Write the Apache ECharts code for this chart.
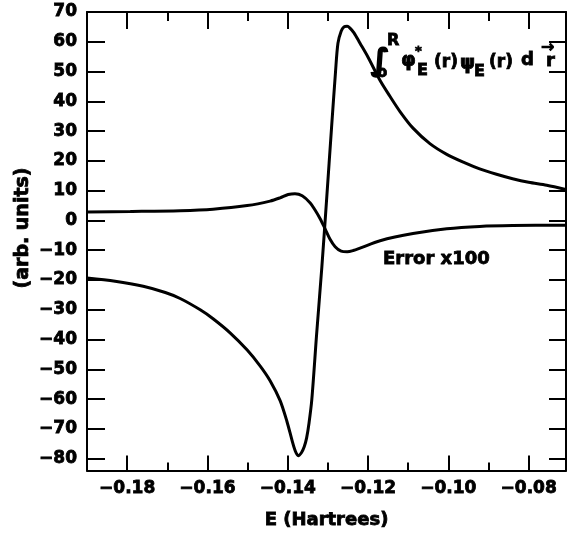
<!DOCTYPE html>
<html>
<head>
<meta charset="utf-8">
<script src="https://cdn.jsdelivr.net/npm/echarts@6/dist/echarts.min.js"></script>
<style>
html,body{margin:0;padding:0;background:#fff;}
#chart{width:568px;height:535px;}
</style>
</head>
<body>
<div id="chart"></div>
<script>
// ---- data ----
const integralX = [-0.1900,-0.1830,-0.1760,-0.1705,-0.1668,-0.1618,-0.1586,-0.1543,-0.1501,-0.1469,-0.1444,-0.1419,-0.1402,-0.1389,-0.1381,-0.1374,-0.1366,-0.1359,-0.1353,-0.1347,-0.1340,-0.1328,-0.1315,-0.1303,-0.1291,-0.1281,-0.1275,-0.1267,-0.1260,-0.1252,-0.1245,-0.1235,-0.1220,-0.1200,-0.1170,-0.1146,-0.1120,-0.1088,-0.1046,-0.1004,-0.0960,-0.0922,-0.0880,-0.0840,-0.0800,-0.0755,-0.0708];
const integralY = [-19.3,-20.4,-22.1,-24.2,-26.2,-30.0,-33.0,-37.8,-43.5,-48.8,-53.8,-60.5,-67.5,-74.0,-77.5,-79.0,-78.0,-76.0,-73.0,-68.0,-60.0,-38.0,-15.5,7.5,31.0,50.0,59.5,63.5,65.0,65.2,64.6,63.0,59.5,54.8,47.0,41.8,36.5,31.0,25.8,22.2,19.4,17.3,15.5,14.0,12.8,11.8,10.4];
const errorX = [-0.1900,-0.1792,-0.1668,-0.1586,-0.1501,-0.1444,-0.1419,-0.1399,-0.1382,-0.1364,-0.1344,-0.1332,-0.1319,-0.1307,-0.1295,-0.1282,-0.1267,-0.1252,-0.1237,-0.1220,-0.1170,-0.1088,-0.1004,-0.0922,-0.0840,-0.0708];
const errorY = [2.8,3.0,3.3,3.8,5.0,6.5,7.6,8.7,9.0,8.3,5.9,3.5,0.5,-2.8,-6.2,-8.8,-10.3,-10.5,-10.1,-9.3,-6.8,-4.4,-2.8,-2.0,-1.7,-1.6];
const xMajorTicks = [-0.18,-0.16,-0.14,-0.12,-0.10,-0.08];
const xMinorTicks = [-0.17,-0.15,-0.13,-0.11,-0.09];
const yTicks = [-80,-70,-60,-50,-40,-30,-20,-10,0,10,20,30,40,50,60,70];
const xTitle = 'E (Hartrees)';
const yTitle = '(arb. units)';
const errorLabel = 'Error x100';

const zip = (xs, ys) => xs.map((x, i) => [x, ys[i]]);
const FONT = 'DejaVu Sans';
const black = '#000';
const xMin = -0.19, xMax = -0.0707, yMin = -84, yMax = 70;

function xAxisCfg(pos, ticks, len, showLine, showLabel) {
  return {
    type: 'value', position: pos, min: xMin, max: xMax,
    axisLine: { show: showLine, onZero: false, lineStyle: { color: black, width: 2 } },
    axisTick: { show: true, inside: true, length: len, customValues: ticks, lineStyle: { color: black, width: 2 } },
    axisLabel: showLabel ? {
      show: true, customValues: ticks, margin: 9, color: black,
      fontFamily: FONT, fontWeight: 'bold', fontSize: 17,
      textBorderColor: black, textBorderWidth: 0.8,
      formatter: v => (v < 0 ? '\u2212' : '') + Math.abs(v).toFixed(2)
    } : { show: false },
    splitLine: { show: false }
  };
}
function yAxisCfg(pos, len, showLabel) {
  return {
    type: 'value', position: pos, min: yMin, max: yMax,
    axisLine: { show: true, onZero: false, lineStyle: { color: black, width: 2 } },
    axisTick: { show: true, inside: true, length: len, customValues: yTicks, lineStyle: { color: black, width: 2 } },
    axisLabel: showLabel ? {
      show: true, customValues: yTicks, margin: 10, color: black,
      fontFamily: FONT, fontWeight: 'bold', fontSize: 17,
      textBorderColor: black, textBorderWidth: 0.8,
      padding: [6, 0, 0, 0],
      formatter: v => (v < 0 ? '\u2212' + (-v) : '' + v)
    } : { show: false },
    splitLine: { show: false }
  };
}

const bottomMajor = xAxisCfg('bottom', xMajorTicks, 15, true, true);
bottomMajor.name = xTitle;
bottomMajor.nameLocation = 'middle';
bottomMajor.nameGap = 41;
bottomMajor.nameTextStyle = { fontFamily: FONT, fontWeight: 'bold', fontSize: 18, color: black, textBorderColor: black, textBorderWidth: 0.8 };

function txt(text, x, y, size, sw) {
  return {
    type: 'text', x: x, y: y, silent: true,
    style: { text: text, fill: black, stroke: black, lineWidth: sw == null ? 0.8 : sw,
      font: 'bold ' + size + 'px "' + FONT + '"', verticalAlign: 'middle', align: 'left' }
  };
}

const option = {
  animation: false,
  backgroundColor: '#fff',
  grid: { left: 87, right: 2, top: 12, bottom: 63, containLabel: false },
  xAxis: [
    bottomMajor,
    xAxisCfg('bottom', xMinorTicks, 8, false, false),
    xAxisCfg('top', xMajorTicks, 17, true, false),
    xAxisCfg('top', xMinorTicks, 9, false, false)
  ],
  yAxis: [
    yAxisCfg('left', 18, true),
    yAxisCfg('right', 17, false)
  ],
  series: [
    { type: 'line', xAxisIndex: 0, yAxisIndex: 0, data: zip(integralX, integralY), showSymbol: false, smooth: 0.3,
      lineStyle: { color: black, width: 3 }, clip: true },
    { type: 'line', xAxisIndex: 0, yAxisIndex: 0, data: zip(errorX, errorY), showSymbol: false, smooth: 0.3,
      lineStyle: { color: black, width: 3 }, clip: true }
  ],
  graphic: [
    { type: 'text', x: 23, y: 228, rotation: Math.PI / 2, silent: true,
      style: { text: yTitle, fill: black, stroke: black, lineWidth: 0.8, font: 'bold 19px "' + FONT + '"', align: 'center', verticalAlign: 'middle' } },
    txt(errorLabel, 383, 259, 18),
    txt('\u222B', 371, 62, 30, 1.6),
    txt('R', 387, 41, 16),
    txt('o', 377, 73, 15),
    txt('\u03C6', 401, 61, 19),
    txt('*', 415, 52, 13),
    txt('E', 417, 71, 16),
    txt('(r)', 434, 63, 17),
    txt('\u03C8', 460, 64, 19),
    txt('E', 474, 72, 16),
    txt('(r)', 489, 63, 17),
    txt('d', 521, 60, 18),
    txt('r', 546, 61, 18),
    txt('\u2192', 541, 48, 16)
  ]
};

const chart = echarts.init(document.getElementById('chart'), null, { renderer: 'canvas' });
chart.setOption(option);
</script>
</body>
</html>
